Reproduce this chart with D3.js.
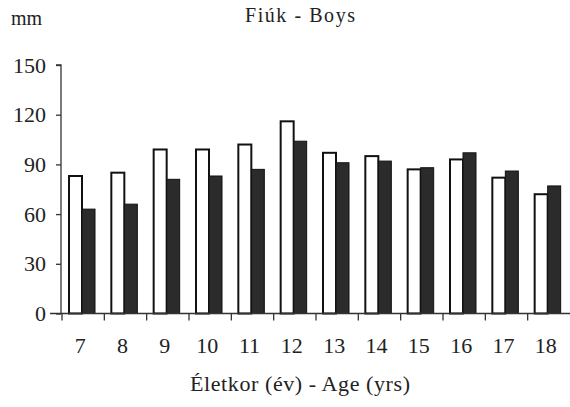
<!DOCTYPE html>
<html><head><meta charset="utf-8">
<script src="https://cdn.jsdelivr.net/npm/d3@7"></script>
<style>body{margin:0;background:#fff;}</style>
</head><body>
<svg id="c" width="570" height="407"></svg>
<script>
const ages = ["7","8","9","10","11","12","13","14","15","16","17","18"];
const whiteSeries = [83, 85, 99, 99, 102, 116, 97, 95, 87, 93, 82, 72];
const darkSeries = [63, 66, 81, 83, 87, 104, 91, 92, 88, 97, 86, 77];
const yTicks = [0, 30, 60, 90, 120, 150];

const svg = d3.select("#c");
const x = d3.scaleBand().domain(ages).range([62, 570]);
const y = d3.scaleLinear().domain([0, 150]).range([313.5, 65]);
const bw = 13, off = 7;

const g = svg.append("g");
g.selectAll("rect.w").data(ages).join("rect").attr("class","w")
  .attr("x", d => x(d) + off).attr("width", bw)
  .attr("y", (d,i) => y(whiteSeries[i])).attr("height", (d,i) => y(0) - y(whiteSeries[i]))
  .attr("fill", "#fff").attr("stroke", "#111").attr("stroke-width", 2);
g.selectAll("rect.d").data(ages).join("rect").attr("class","d")
  .attr("x", d => x(d) + off + bw).attr("width", bw)
  .attr("y", (d,i) => y(darkSeries[i])).attr("height", (d,i) => y(0) - y(darkSeries[i]))
  .attr("fill", "#2b2b2b").attr("stroke", "#111").attr("stroke-width", 1);

const ya = svg.append("g").attr("transform", "translate(61,0)")
  .call(d3.axisLeft(y).tickValues(yTicks).tickSize(5).tickPadding(10));
ya.attr("font-family", "Liberation Serif").attr("font-size", 22);
ya.select(".domain").attr("stroke", "#333").attr("stroke-width", 1.3).attr("d", `M-5,${y(150)}H0V${y(0)}`);
ya.selectAll(".tick line").attr("stroke", "#333").attr("stroke-width", 1.3);
ya.selectAll(".tick text").attr("fill", "#222");

const xa = svg.append("g").attr("transform", `translate(0,${y(0)})`);
xa.append("line").attr("x1", 50).attr("x2", 570).attr("y1", 0).attr("y2", 0).attr("stroke", "#333").attr("stroke-width", 1.3);
xa.selectAll("line.t").data(ages).join("line").attr("class","t")
  .attr("x1", d => x(d)).attr("x2", d => x(d)).attr("y1", 0).attr("y2", 7)
  .attr("stroke", "#333").attr("stroke-width", 1.3);
xa.selectAll("text").data(ages).join("text")
  .attr("x", d => x(d) + x.bandwidth()/2 - 3).attr("y", 39).attr("text-anchor", "middle")
  .attr("font-family", "Liberation Serif").attr("font-size", 22).attr("fill", "#222").text(d => d);

svg.append("text").attr("x", 11).attr("y", 25).attr("font-family", "Liberation Serif").attr("font-size", 20).attr("fill", "#222").text("mm");
svg.append("text").attr("x", 245).attr("y", 22).attr("textLength", 110).attr("font-family", "Liberation Serif").attr("font-size", 20).attr("fill", "#222").text("Fiúk - Boys");
svg.append("text").attr("x", 190).attr("y", 391).attr("textLength", 220).attr("font-family", "Liberation Serif").attr("font-size", 22).attr("fill", "#222").text("Életkor (év) - Age (yrs)");
</script>
</body></html>
